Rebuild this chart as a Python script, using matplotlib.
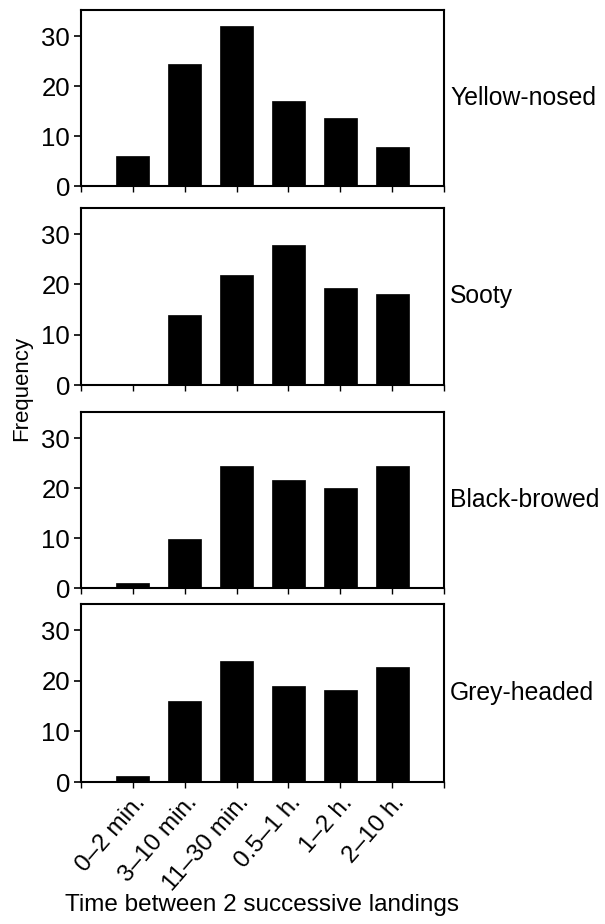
import matplotlib
matplotlib.use("Agg")
import matplotlib.pyplot as plt

categories = ["0–2 min.", "3–10 min.", "11–30 min.", "0.5–1 h.", "1–2 h.", "2–10 h."]
species = ["Yellow-nosed", "Sooty", "Black-browed", "Grey-headed"]
yellow_nosed = [6, 24.5, 32, 17, 13.6, 7.9]
sooty = [0, 14, 21.9, 27.8, 19.2, 18]
black_browed = [1, 9.8, 24.4, 21.6, 20, 24.4]
grey_headed = [1.2, 16, 23.9, 19, 18.2, 22.7]
series = [yellow_nosed, sooty, black_browed, grey_headed]
yticks = [0, 10, 20, 30]

plt.rcParams['font.family'] = ['Liberation Sans', 'DejaVu Sans']

W, H = 605, 924
fig = plt.figure(figsize=(W / 100, H / 100), dpi=100)

panels_px = [(10, 186), (208, 385), (412, 588), (604, 782)]
left_px, right_px = 81, 444

xpos = list(range(1, len(categories) + 1))
for i, (vals, name, (top, bot)) in enumerate(zip(series, species, panels_px)):
    ax = fig.add_axes([left_px / W, 1 - bot / H, (right_px - left_px) / W, (bot - top) / H])
    ax.bar(xpos, vals, width=0.64, color='black', edgecolor='black', linewidth=0.5)
    ax.set_xlim(0, len(categories) + 1)
    ax.set_ylim(0, 35.2)
    ax.set_yticks(yticks)
    ax.set_xticks(range(0, len(categories) + 2))
    for s in ax.spines.values():
        s.set_linewidth(1.5)
        s.set_color('black')
    ax.tick_params(axis='y', direction='out', length=5, width=1.2, labelsize=18.5, pad=3)
    ax.tick_params(axis='x', direction='out', length=4, width=1.0, pad=3)
    if i < 3:
        ax.set_xticklabels([])
    else:
        ax.set_xticklabels([""] + categories + [""], rotation=49, ha='right',
                           rotation_mode='anchor', fontsize=17.5)
    ax.text(1.017, 0.5, name, transform=ax.transAxes, va='center', ha='left', fontsize=17.8)

fig.text(262 / W, 1 - 905 / H, "Time between 2 successive landings",
         ha='center', va='center', fontsize=17.5)
fig.text(22 / W, 1 - 388 / H, "Frequency", rotation=90, va='center', ha='center', fontsize=16)

fig.savefig("out.png", dpi=100)
